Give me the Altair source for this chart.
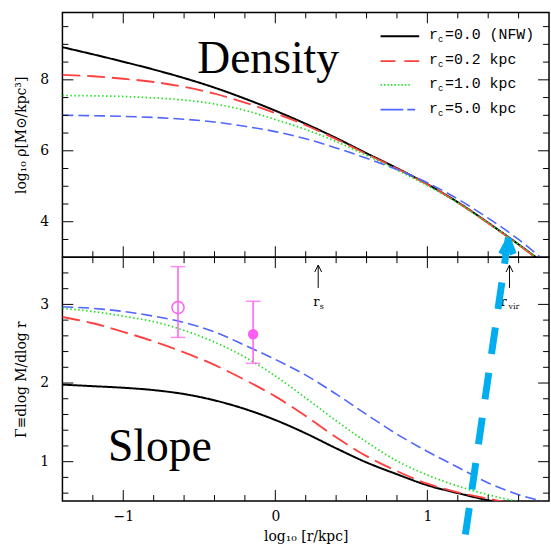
import altair as alt
import pandas as pd

# ---------------- data ----------------
x_grid = [-1.4, -1.2, -1.0, -0.8, -0.6, -0.4, -0.2, 0.0, 0.2, 0.4, 0.6, 0.8, 1.0, 1.2, 1.4, 1.6, 1.75]
series = ["rc=0.0 (NFW)", "rc=0.2 kpc", "rc=1.0 kpc", "rc=5.0 kpc"]
colors = ["#000000", "#ff4040", "#22e022", "#4f66ff"]
dashes = [[1, 0], [18, 7], [1.5, 2.5], [11, 5]]
widths = [2.0, 1.6, 1.6, 1.6]

dens_nfw = [8.92, 8.72, 8.51, 8.29, 8.05, 7.78, 7.47, 7.13, 6.76, 6.36, 5.93, 5.51, 5.06, 4.55, 3.97, 3.36, 2.88]
dens_02 = [8.14, 8.10, 8.03, 7.94, 7.80, 7.61, 7.36, 7.06, 6.72, 6.33, 5.91, 5.50, 5.05, 4.54, 3.96, 3.35, 2.87]
dens_10 = [7.56, 7.55, 7.53, 7.49, 7.43, 7.32, 7.14, 6.88, 6.60, 6.26, 5.87, 5.46, 5.02, 4.53, 3.96, 3.36, 2.89]
dens_50 = [7.00, 6.99, 6.97, 6.94, 6.89, 6.81, 6.69, 6.54, 6.34, 6.08, 5.79, 5.47, 5.10, 4.64, 4.10, 3.50, 2.97]

slope_nfw = [1.98, 1.96, 1.94, 1.91, 1.86, 1.78, 1.67, 1.53, 1.36, 1.17, 0.99, 0.84, 0.70, 0.60, 0.51, 0.45, 0.41]
slope_02 = [2.84, 2.76, 2.65, 2.53, 2.39, 2.23, 2.04, 1.83, 1.58, 1.31, 1.07, 0.88, 0.72, 0.61, 0.53, 0.46, 0.42]
slope_10 = [2.95, 2.91, 2.85, 2.78, 2.67, 2.52, 2.33, 2.09, 1.81, 1.52, 1.25, 1.01, 0.83, 0.69, 0.58, 0.49, 0.44]
slope_50 = [2.97, 2.95, 2.91, 2.85, 2.77, 2.65, 2.48, 2.30, 2.10, 1.86, 1.60, 1.35, 1.13, 0.93, 0.73, 0.58, 0.50]

obs_x = [-0.64, -0.146]
obs_y = [2.96, 2.62]
obs_lo = [2.58, 2.25]
obs_hi = [3.48, 3.04]

r_s = 0.282
r_vir = 1.54

x_major = [-1, 0, 1]
x_minor = [-1.2, -0.8, -0.6, -0.4, -0.2, 0.2, 0.4, 0.6, 0.8, 1.2, 1.4, 1.6]
yd_major = [4, 6, 8]
yd_minor = [3.5, 4.5, 5, 5.5, 6.5, 7, 7.5, 8.5, 9, 9.5]
ys_major = [1, 2, 3]
ys_minor = [0.6, 0.8, 1.2, 1.4, 1.6, 1.8, 2.2, 2.4, 2.6, 2.8, 3.2, 3.4]

# ---------------- layout ----------------
W = 491
H1 = 247
H2 = 246
SERIF = "DejaVu Serif"
BIG = "Liberation Serif"
MONO = "Liberation Mono"
MAJ, MIN = 11, 6

xs = alt.Scale(domain=[-1.4, 1.8], nice=False, zero=False)
yd = alt.Scale(domain=[3.0, 9.9], nice=False, zero=False)
ysl = alt.Scale(domain=[0.5, 3.6], nice=False, zero=False)

def long_df(cols):
    rows = []
    for name, vals in zip(series, cols):
        for xv, yv in zip(x_grid, vals):
            rows.append({"x": xv, "y": yv, "s": name})
    return pd.DataFrame(rows)

color_enc = alt.Color("s:N", scale=alt.Scale(domain=series, range=colors), legend=None)
dash_enc = alt.StrokeDash("s:N", scale=alt.Scale(domain=series, range=dashes), legend=None)
width_enc = alt.StrokeWidth("s:N", scale=alt.Scale(domain=series, range=widths), legend=None)

x_axis_bottom = alt.Axis(values=x_major, format="d", title="log₁₀ [r/kpc]", ticks=False,
                         domain=False, grid=False, labelPadding=9, titlePadding=6)
y_axis_top = alt.Axis(values=yd_major, format="d", ticks=False, domain=False, grid=False,
                      title="log₁₀ ρ[M⊙/kpc³]", labelPadding=14, titlePadding=11)
y_axis_bot = alt.Axis(values=ys_major, format="d", ticks=False, domain=False, grid=False,
                      title="Γ≡dlog M/dlog r", labelPadding=14, titlePadding=11)

def ticks(yscale, yaxis, H, y_major, y_minor, xaxis):
    layers = []
    for vals, L in [(x_major, MAJ), (x_minor, MIN)]:
        d = pd.DataFrame({"t": vals})
        b = alt.Chart(d).mark_rule(color="black", strokeWidth=1)
        layers.append(b.encode(x=alt.X("t:Q", scale=xs, axis=xaxis), y=alt.value(H), y2=alt.value(H - L)))
        layers.append(b.encode(x=alt.X("t:Q", scale=xs, axis=xaxis), y=alt.value(0), y2=alt.value(L)))
    for vals, L in [(y_major, MAJ), (y_minor, MIN)]:
        d = pd.DataFrame({"t": vals})
        b = alt.Chart(d).mark_rule(color="black", strokeWidth=1)
        layers.append(b.encode(y=alt.Y("t:Q", scale=yscale, axis=yaxis), x=alt.value(0), x2=alt.value(L)))
        layers.append(b.encode(y=alt.Y("t:Q", scale=yscale, axis=yaxis), x=alt.value(W), x2=alt.value(W - L)))
    return layers

def label(txt, x, y, size, font, align="left"):
    return alt.Chart(pd.DataFrame({"t": [txt]})).mark_text(
        font=font, fontSize=size, align=align, baseline="alphabetic", color="black"
    ).encode(x=alt.value(x), y=alt.value(y), text="t:N")

# ---------------- top panel: density ----------------
dens = alt.Chart(long_df([dens_nfw, dens_02, dens_10, dens_50])).mark_line(
    clip=True, interpolate="monotone"
).encode(
    x=alt.X("x:Q", scale=xs, axis=None),
    y=alt.Y("y:Q", scale=yd, axis=y_axis_top),
    color=color_enc, strokeDash=dash_enc, strokeWidth=width_enc,
)

legend_layers = []
leg_y = [24.1, 49.1, 73.1, 98.1]
leg_end = [360, 360, 352, 356]
leg_dash = [[1, 0], [15, 9], [1.5, 2], [23, 4]]
leg_txt = ["=0.0 (NFW)", "=0.2 kpc", "=1.0 kpc", "=5.0 kpc"]
for i in range(4):
    legend_layers.append(
        alt.Chart(pd.DataFrame({"s": [series[i]]})).mark_rule(
            color=colors[i], strokeDash=leg_dash[i], strokeWidth=widths[i]
        ).encode(x=alt.value(321), x2=alt.value(leg_end[i]), y=alt.value(leg_y[i]))
    )
    legend_layers.append(label("r", 370, leg_y[i] + 3, 15, MONO))
    legend_layers.append(label("c", 379, leg_y[i] + 6, 9, MONO))
    legend_layers.append(label(leg_txt[i], 386, leg_y[i] + 3, 15, MONO))

top = alt.layer(
    dens,
    *ticks(yd, y_axis_top, H1, yd_major, yd_minor, None),
    label("Density", 136, 61, 46, BIG),
    *legend_layers,
).properties(width=W, height=H1)

# ---------------- bottom panel: slope ----------------
slope = alt.Chart(long_df([slope_nfw, slope_02, slope_10, slope_50])).mark_line(
    clip=True, interpolate="monotone"
).encode(
    x=alt.X("x:Q", scale=xs, axis=x_axis_bottom),
    y=alt.Y("y:Q", scale=ysl, axis=y_axis_bot),
    color=color_enc, strokeDash=dash_enc, strokeWidth=width_enc,
)

obs = pd.DataFrame({"x": obs_x, "y": obs_y, "lo": obs_lo, "hi": obs_hi})
mag = "#ff5cf2"
X_B = alt.X("x:Q", scale=xs, axis=x_axis_bottom)
err = alt.Chart(obs).mark_rule(color=mag, strokeWidth=1.5).encode(
    x=X_B, y=alt.Y("lo:Q", scale=ysl, axis=y_axis_bot), y2="hi:Q")
cap_lo = alt.Chart(obs).mark_tick(color=mag, orient="horizontal", size=15, thickness=1.5).encode(
    x=X_B, y=alt.Y("lo:Q", scale=ysl, axis=y_axis_bot))
cap_hi = alt.Chart(obs).mark_tick(color=mag, orient="horizontal", size=15, thickness=1.5).encode(
    x=X_B, y=alt.Y("hi:Q", scale=ysl, axis=y_axis_bot))
open_pt = alt.Chart(obs.iloc[[0]]).mark_point(color=mag, filled=False, size=150, strokeWidth=1.5, opacity=1).encode(
    x=X_B, y=alt.Y("y:Q", scale=ysl, axis=y_axis_bot))
fill_pt = alt.Chart(obs.iloc[[1]]).mark_point(color=mag, filled=True, size=110, opacity=1).encode(
    x=X_B, y=alt.Y("y:Q", scale=ysl, axis=y_axis_bot))

marks = pd.DataFrame({"x": [r_s, r_vir]})
arrow_shaft = alt.Chart(marks).mark_rule(color="black", strokeWidth=1).encode(
    x=X_B, y=alt.value(31), y2=alt.value(8))
arrow_head = alt.Chart(marks).mark_point(
    shape="M-1,2L0,0L1,2", size=49, filled=False, color="black", strokeWidth=1, opacity=1
).encode(x=X_B, y=alt.value(8))

def mark_label(txt, xv, dx, y, size, align="center"):
    return alt.Chart(pd.DataFrame({"x": [xv], "t": [txt]})).mark_text(
        font=SERIF, fontSize=size, dx=dx, align=align, baseline="alphabetic", color="black"
    ).encode(x=X_B, y=alt.value(y), text="t:N")

cyan = "#00aeef"
big_shaft = alt.Chart(pd.DataFrame({"a": [0]})).mark_rule(
    color=cyan, strokeWidth=7, strokeDash=[27, 19], strokeCap="butt"
).encode(x=alt.value(450), y=alt.value(-20), x2=alt.value(404), y2=alt.value(298))
big_head = alt.Chart(pd.DataFrame({"a": [0]})).mark_point(
    shape="M-1.4,2.6L0,0L1,2.6", size=100, filled=False, color=cyan, strokeWidth=7,
    strokeJoin="round", strokeCap="butt", opacity=1
).encode(x=alt.value(450), y=alt.value(-16))

bottom = alt.layer(
    slope,
    *ticks(ysl, y_axis_bot, H2, ys_major, ys_minor, x_axis_bottom),
    err, cap_lo, cap_hi, open_pt, fill_pt,
    arrow_shaft, arrow_head,
    mark_label("r", r_s, -2, 49, 13),
    mark_label("s", r_s, 1.5, 52, 8, "left"),
    mark_label("r", r_vir, -6, 49, 13),
    mark_label("vir", r_vir, -1, 52, 8, "left"),
    label("Slope", 46, 206, 46, BIG),
    big_shaft, big_head,
).properties(width=W, height=H2)

chart = alt.vconcat(top, bottom, spacing=0, bounds="flush").configure_view(
    stroke="black", strokeWidth=1.5
).configure_axis(
    labelFont=SERIF, labelFontSize=14, labelColor="black",
    titleFont=SERIF, titleFontSize=14, titleFontWeight="normal", titleColor="black",
).properties(
    padding={"left": 14, "top": 8, "right": 0, "bottom": 0}, background="white"
)

chart.save("out.html", embed_options={"renderer": "svg", "actions": False})
